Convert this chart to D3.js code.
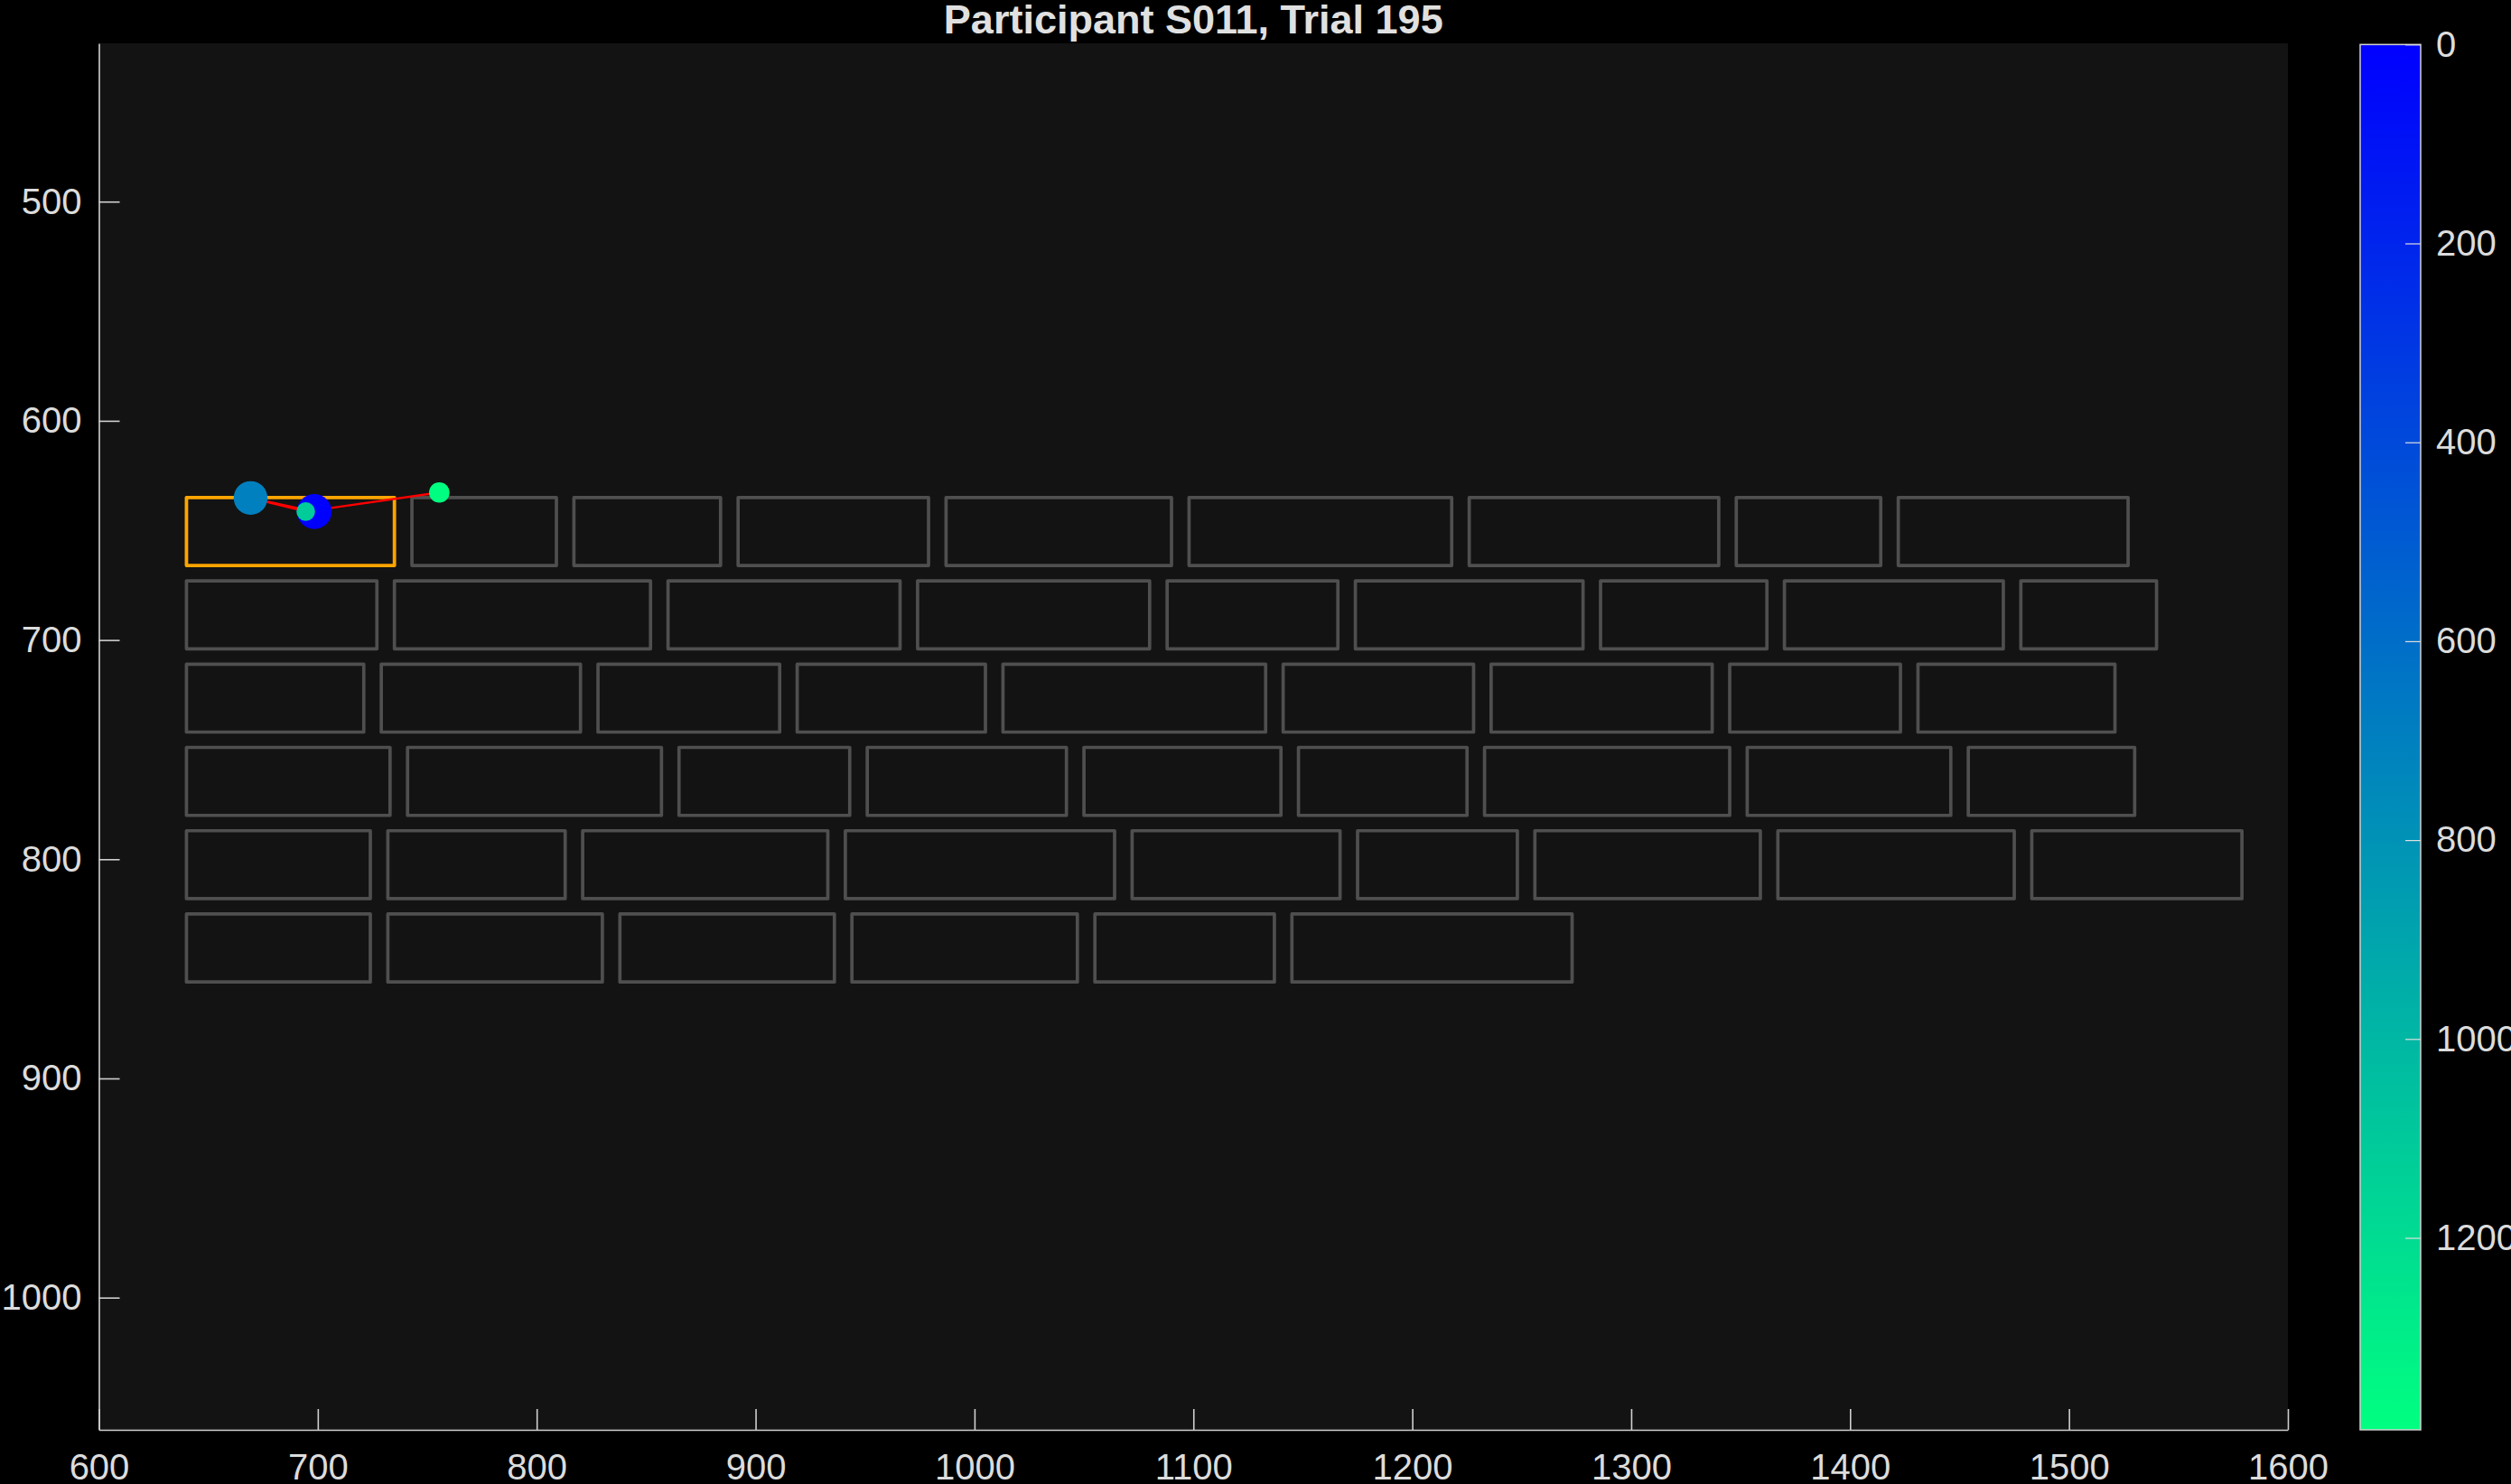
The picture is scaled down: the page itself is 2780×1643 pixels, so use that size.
<!DOCTYPE html>
<html><head><meta charset="utf-8">
<script src="https://cdn.jsdelivr.net/npm/d3@7"></script>
<style>html,body{margin:0;padding:0;background:#000;overflow:hidden}svg{display:block}</style>
</head><body>
<script>
// ---------- data ----------
const titleText = "Participant S011, Trial 195";
const xTicks = [600, 700, 800, 900, 1000, 1100, 1200, 1300, 1400, 1500, 1600];
const yTicks = [500, 600, 700, 800, 900, 1000];
const cbTicks = [0, 200, 400, 600, 800, 1000, 1200];
const xDomain = [600, 1600];
const yDomain = [427.8, 1060.3];
const timeMax = 1393;

// brick rows: top edge (data y) and [left, right] x extents
const rowTops = [635, 673, 711, 749, 787, 825];
const brickHeight = 31;
const row1 = [[640,735],[743,809],[817,884],[892,979],[987,1090],[1098,1218],[1226,1340],[1348,1414],[1422,1527]];
const row2 = [[640,727],[735,852],[860,966],[974,1080],[1088,1166],[1174,1278],[1286,1362],[1370,1470],[1478,1540]];
const row3 = [[640,721],[729,820],[828,911],[919,1005],[1013,1133],[1141,1228],[1236,1337],[1345,1423],[1431,1521]];
const row4 = [[640,733],[741,857],[865,943],[951,1042],[1050,1140],[1148,1225],[1233,1345],[1353,1446],[1454,1530]];
const row5 = [[640,724],[732,813],[821,933],[941,1064],[1072,1167],[1175,1248],[1256,1359],[1367,1475],[1483,1579]];
const row6 = [[640,724],[732,830],[838,936],[944,1047],[1055,1137],[1145,1273]];
const targetRow = 0, targetIndex = 0;

// fixations (in time order)
const fixX = [698.4, 669.3, 694.5, 755.5];
const fixY = [641.4, 635.2, 641.4, 632.7];
const fixTime = [0, 699, 1114, 1393];
const fixDur = [372, 350, 106, 128];

// ---------- layout ----------
const W = 2780, H = 1643;
const plotL = 109.5, plotR = 2533, plotT = 48, plotB = 1583;
const cbL = 2613, cbR = 2680, cbT = 49.3, cbB = 1583;
const font = "'Liberation Sans', Arial, Helvetica, sans-serif";
const textCol = "#dcdcdc", axisCol = "#d0d0d0";

const svg = d3.select("body").append("svg").attr("width", W).attr("height", H)
  .style("background", "#000").style("font-family", font);

const x = d3.scaleLinear().domain(xDomain).range([plotL, plotR]);
const y = d3.scaleLinear().domain(yDomain).range([plotT, plotB]);
const color = d3.scaleLinear().domain([0, timeMax]).range(["#0000ff", "#00ff80"]).interpolate(d3.interpolateRgb);
const rScale = d3.scaleSqrt().domain([0, 400]).range([0, 20]);

svg.append("rect").attr("x", plotL).attr("y", plotT).attr("width", plotR - plotL).attr("height", plotB - plotT)
  .attr("fill", "#131313");

const defs = svg.append("defs");
defs.append("clipPath").attr("id", "clip").append("rect")
  .attr("x", plotL).attr("y", plotT).attr("width", plotR - plotL).attr("height", plotB - plotT);

const plot = svg.append("g").attr("clip-path", "url(#clip)");

// bricks
const rows = [row1, row2, row3, row4, row5, row6];
const bricks = [];
rows.forEach((r, ri) => r.forEach((b, bi) => bricks.push({ x0: b[0], x1: b[1], top: rowTops[ri], target: ri === targetRow && bi === targetIndex })));
bricks.sort((a, b) => a.target - b.target);
plot.selectAll("rect.brick").data(bricks).join("rect").attr("class", "brick")
  .attr("x", d => x(d.x0)).attr("y", d => y(d.top))
  .attr("width", d => x(d.x1) - x(d.x0)).attr("height", d => y(d.top + brickHeight) - y(d.top))
  .attr("fill", "none")
  .attr("stroke", d => d.target ? "#ffa500" : "#4f4f4f")
  .attr("stroke-width", d => d.target ? 3.8 : 3.7)
  .attr("stroke-linejoin", "round");

// scanpath
const fix = fixX.map((v, i) => ({ x: v, y: fixY[i], t: fixTime[i], d: fixDur[i] }));
plot.append("path").datum(fix)
  .attr("d", d3.line().x(d => x(d.x)).y(d => y(d.y)))
  .attr("fill", "none").attr("stroke", "#ff0000").attr("stroke-width", 2.4);
plot.selectAll("circle.fix").data(fix).join("circle").attr("class", "fix")
  .attr("cx", d => x(d.x)).attr("cy", d => y(d.y)).attr("r", d => rScale(d.d))
  .attr("fill", d => color(d.t));

// axes
const xAxis = d3.axisBottom(x).tickValues(xTicks).tickSizeInner(-23).tickSizeOuter(0).tickPadding(27).tickFormat(d3.format("d"));
const gx = svg.append("g").attr("transform", `translate(0,${plotB})`).call(xAxis);
const yAxis = d3.axisLeft(y).tickValues(yTicks).tickSizeInner(-23).tickSizeOuter(0).tickPadding(19).tickFormat(d3.format("d"));
const gy = svg.append("g").attr("transform", `translate(${plotL},0)`).call(yAxis);
[gx, gy].forEach(g => {
  g.select(".domain").attr("stroke", axisCol).attr("stroke-width", 1.6);
  g.selectAll(".tick line").attr("stroke", axisCol).attr("stroke-width", 1.6);
  g.selectAll(".tick text").attr("fill", textCol).style("font-size", "40px").style("font-family", font);
});

// title
svg.append("text").attr("x", (plotL + plotR) / 2).attr("y", 37).attr("text-anchor", "middle")
  .attr("fill", "#e0e0e0").style("font-size", "45px").style("font-weight", "bold").text(titleText);

// colorbar
const cb = d3.scaleLinear().domain([0, timeMax]).range([cbT, cbB]);
const grad = defs.append("linearGradient").attr("id", "cbgrad").attr("x1", 0).attr("y1", 0).attr("x2", 0).attr("y2", 1);
grad.append("stop").attr("offset", "0%").attr("stop-color", color(0));
grad.append("stop").attr("offset", "100%").attr("stop-color", color(timeMax));
svg.append("rect").attr("x", cbL).attr("y", cbT).attr("width", cbR - cbL).attr("height", cbB - cbT)
  .attr("fill", "url(#cbgrad)").attr("stroke", "#d0d0d0").attr("stroke-width", 1.5);
const cbAxis = d3.axisRight(cb).tickValues(cbTicks).tickSizeInner(-17).tickSizeOuter(0).tickPadding(17).tickFormat(d3.format("d"));
const gcb = svg.append("g").attr("transform", `translate(${cbR},0)`).call(cbAxis);
gcb.select(".domain").remove();
gcb.selectAll(".tick line").attr("stroke", "#e0e0e0").attr("stroke-width", 1.2);
gcb.selectAll(".tick text").attr("fill", textCol).style("font-size", "40px").style("font-family", font);
</script>
</body></html>
